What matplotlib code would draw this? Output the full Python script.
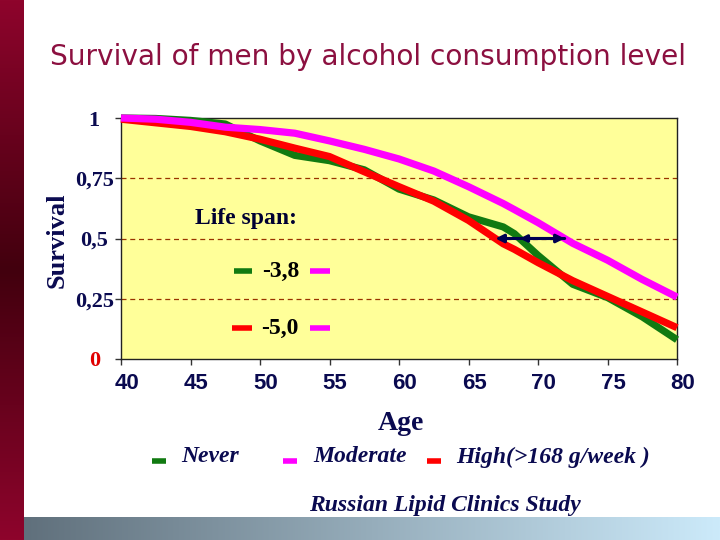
import numpy as np
import matplotlib
matplotlib.use("Agg")
import matplotlib.pyplot as plt
from matplotlib.lines import Line2D
from matplotlib.transforms import ScaledTranslation

# ---------------- data ----------------
ages = [40, 42.5, 45, 47.5, 50, 52.5, 55, 57.5, 60, 62.5, 65, 67.5, 68.3, 70, 72.5, 75, 77.5, 80]
never = [1.0, 0.998, 0.99, 0.975, 0.905, 0.845, 0.823, 0.785, 0.705, 0.66, 0.59, 0.548, 0.52, 0.43, 0.31, 0.255, 0.175, 0.08]
moderate = [1.0, 0.995, 0.982, 0.962, 0.952, 0.937, 0.905, 0.87, 0.83, 0.78, 0.715, 0.645, 0.62, 0.566, 0.48, 0.41, 0.33, 0.257]
high = [0.995, 0.98, 0.965, 0.943, 0.912, 0.875, 0.84, 0.777, 0.715, 0.655, 0.575, 0.478, 0.455, 0.4, 0.325, 0.26, 0.195, 0.13]

series_names = ["Never", "Moderate", "High(>168 g/week )"]
series_colors = ["#117A11", "#FF00FF", "#FF0000"]
yticks = [0, 0.25, 0.5, 0.75, 1]
ytick_labels = ["0", "0,25", "0,5", "0,75", "1"]
xticks = [40, 45, 50, 55, 60, 65, 70, 75, 80]
life_span = ["-3,8", "-5,0"]

NAVY = "#0A0A50"
TITLE_COLOR = "#8C1040"

fig = plt.figure(figsize=(7.2, 5.4), dpi=100)
W, H = 720, 540

def fx(px):
    return px / W

def fy(py):
    return 1 - py / H

# left vertical gradient bar
axl = fig.add_axes([0, 0, fx(24), 1])
t = np.linspace(0, 1, 256)
v = np.abs(t - 0.5) * 2  # 0 at middle, 1 at ends
c_end = np.array([0x8E, 0x04, 0x2C]) / 255
c_mid = np.array([0x42, 0x00, 0x0E]) / 255
grad = (c_mid[None, :] * (1 - v[:, None]) + c_end[None, :] * v[:, None])
axl.imshow(grad[:, None, :], aspect="auto", extent=[0, 1, 0, 1])
axl.axis("off")

# bottom horizontal gradient bar
axb = fig.add_axes([fx(24), 0, 1 - fx(24), 23 / H])
u = np.linspace(0, 1, 256)
c_l = np.array([0x60, 0x70, 0x7C]) / 255
c_r = np.array([0xCC, 0xEA, 0xFA]) / 255
gradb = c_l[None, :] * (1 - u[:, None]) + c_r[None, :] * u[:, None]
axb.imshow(gradb[None, :, :], aspect="auto", extent=[0, 1, 0, 1])
axb.axis("off")

# title (fit to width)
title = fig.text(fx(368), fy(57), "Survival of men by alcohol consumption level",
                 ha="center", va="center", color=TITLE_COLOR,
                 family="DejaVu Sans", fontsize=22)
fig.canvas.draw()
bb = title.get_window_extent()
title.set_fontsize(22 * 637 / bb.width)

# main axes
ax = fig.add_axes([fx(121), fy(359), fx(677) - fx(121), (359 - 118) / H])
ax.set_facecolor("#FFFF99")
ax.set_xlim(40, 80)
ax.set_ylim(0, 1)

for vals, col in zip([never, high, moderate], [series_colors[0], series_colors[2], series_colors[1]]):
    ax.plot(ages, vals, color=col, lw=5.2, solid_capstyle="butt", clip_on=False, zorder=3)

ax.set_yticks(yticks)
ax.set_yticklabels(ytick_labels)
ax.set_xticks(xticks)
ax.set_xticklabels([str(x) for x in xticks])
ax.tick_params(axis="y", direction="out", length=4.3, width=1, color="#333333", pad=15)
ax.tick_params(axis="x", direction="out", length=4.3, width=1, color="#333333", pad=6)
for lab in ax.get_yticklabels():
    lab.set_family("Liberation Serif")
    lab.set_fontweight("bold")
    lab.set_fontsize(16)
    lab.set_color(NAVY)
    lab.set_horizontalalignment("center")
ax.get_yticklabels()[0].set_color("#E00000")
offset = ScaledTranslation(4 / 72, 0, fig.dpi_scale_trans)
for lab in ax.get_xticklabels():
    lab.set_family("Liberation Sans")
    lab.set_fontweight("bold")
    lab.set_fontsize(16)
    lab.set_color(NAVY)
    lab.set_transform(lab.get_transform() + offset)

for s in ax.spines.values():
    s.set_color("#222222")
    s.set_linewidth(1)

for yv in yticks[1:-1]:
    ax.axhline(yv, color="#993300", lw=0.9, ls=(0, (4, 3)), zorder=1)

# life-span arrows computed from the curves' crossing of 0.5
def cross(vals, level=0.5):
    return float(np.interp(level, vals[::-1], ages[::-1]))

x_hi = cross(high)
x_mod = cross(moderate)
x_nev = cross(never)
ax.annotate("", xy=(x_hi, 0.5), xytext=(x_mod, 0.5),
            arrowprops=dict(arrowstyle="<|-|>", color="#000050", lw=2.2,
                            mutation_scale=12, shrinkA=0, shrinkB=0), zorder=5)
ax.annotate("", xy=(x_nev, 0.5), xytext=(x_mod, 0.5),
            arrowprops=dict(arrowstyle="-|>", color="#000050", lw=2.2,
                            mutation_scale=10, shrinkA=0, shrinkB=0), zorder=5)

# Life span box
ax.text(0.225, 0.585, "Life span:", transform=ax.transAxes, ha="center", va="center",
        family="Liberation Serif", fontweight="bold", fontsize=17, color="#000033")
ax.text(0.288, 0.362, life_span[0], transform=ax.transAxes, ha="center", va="center",
        family="Liberation Serif", fontweight="bold", fontsize=17, color="#000000")
ax.text(0.286, 0.127, life_span[1], transform=ax.transAxes, ha="center", va="center",
        family="Liberation Serif", fontweight="bold", fontsize=17, color="#000000")
for (x0, x1, yy, col) in [(0.203, 0.236, 0.365, series_colors[0]),
                          (0.340, 0.376, 0.365, series_colors[1]),
                          (0.200, 0.236, 0.129, series_colors[2]),
                          (0.340, 0.376, 0.129, series_colors[1])]:
    ax.add_line(Line2D([x0, x1], [yy, yy], transform=ax.transAxes, color=col,
                       lw=4, solid_capstyle="butt"))

# axis labels
fig.text(fx(57), fy(240), "Survival", rotation=90, ha="center", va="center",
         family="Liberation Serif", fontweight="bold", fontsize=19, color=NAVY)
fig.text(fx(401), fy(423), "Age", ha="center", va="center",
         family="Liberation Serif", fontweight="bold", fontsize=20, color=NAVY)

# legend
leg_mark = [(152, 166), (283, 297), (427, 441)]
leg_text_x = [181, 313, 456]
for (m0, m1), tx, name, col in zip(leg_mark, leg_text_x, series_names, series_colors):
    fig.add_artist(Line2D([fx(m0), fx(m1)], [fy(461), fy(461)], transform=fig.transFigure,
                          color=col, lw=4, solid_capstyle="butt"))
    fig.text(fx(tx), fy(457), name, ha="left", va="center", family="Liberation Serif",
             fontweight="bold", style="italic", fontsize=17, color=NAVY)

fig.text(fx(445), fy(505), "Russian Lipid Clinics Study", ha="center", va="center",
         family="Liberation Serif", fontweight="bold", style="italic", fontsize=17, color=NAVY)

fig.savefig("out.png", dpi=100)
